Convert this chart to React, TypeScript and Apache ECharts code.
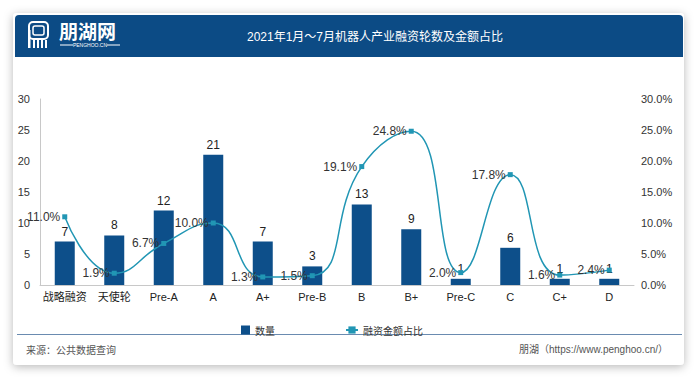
import React, { useEffect, useRef } from "react";
import * as echarts from "echarts";

const categories = ["战略融资", "天使轮", "Pre-A", "A", "A+", "Pre-B", "B", "B+", "Pre-C", "C", "C+", "D"];
const counts = [7, 8, 12, 21, 7, 3, 13, 9, 1, 6, 1, 1];
const shares = [11.0, 1.9, 6.7, 10.0, 1.3, 1.5, 19.1, 24.8, 2.0, 17.8, 1.6, 2.4];
const leftTicks = { min: 0, max: 30, interval: 5 };
const rightTicks = { min: 0, max: 30, interval: 5 };

const TITLE = "2021年1月～7月机器人产业融资轮数及金额占比";
const BAR_NAME = "数量";
const LINE_NAME = "融资金额占比";
const SOURCE = "来源：公共数据查询";
const CREDIT = "朋湖（https://www.penghoo.cn/）";

const BAR_COLOR = "#0d4f8a";
const LINE_COLOR = "#2196b4";
const HEADER_COLOR = "#0c4b85";
const FONT = "'Liberation Sans', Arial, 'Noto Sans CJK SC', sans-serif";

export default function App() {
  const ref = useRef<HTMLDivElement>(null);
  useEffect(() => {
    if (!ref.current) return;
    const chart = echarts.init(ref.current, undefined, { renderer: "svg" });
    const option: any = {
      animation: false,
      backgroundColor: "#ffffff",
      textStyle: { fontFamily: FONT },
      graphic: [
        {
          type: "rect",
          z: -10,
          shape: { x: 13, y: 13, width: 671, height: 352, r: 4 },
          style: { fill: "#ffffff", shadowBlur: 10, shadowColor: "rgba(0,0,0,0.28)", shadowOffsetY: 2 },
          silent: true,
        },
        {
          type: "rect",
          z: -5,
          shape: { x: 15, y: 15, width: 668, height: 42, r: [4, 4, 0, 0] },
          style: { fill: HEADER_COLOR },
          silent: true,
        },
        // logo icon
        {
          type: "rect",
          shape: { x: 29, y: 22, width: 19, height: 17, r: 4 },
          style: { fill: "none", stroke: "#ffffff", lineWidth: 2 },
        },
        {
          type: "rect",
          shape: { x: 33, y: 26, width: 11, height: 9, r: 2 },
          style: { fill: "none", stroke: "#ffffff", lineWidth: 1.5 },
        },
        { type: "rect", shape: { x: 28, y: 30, width: 2.5, height: 18 }, style: { fill: "#ffffff" } },
        { type: "rect", shape: { x: 33, y: 38, width: 2, height: 10 }, style: { fill: "#ffffff" } },
        { type: "rect", shape: { x: 37, y: 40, width: 2, height: 8 }, style: { fill: "#ffffff" } },
        { type: "rect", shape: { x: 41, y: 40, width: 2, height: 8 }, style: { fill: "#ffffff" } },
        { type: "rect", shape: { x: 45, y: 40, width: 2, height: 8 }, style: { fill: "#ffffff" } },
        {
          type: "text",
          x: 59,
          y: 30,
          style: {
            text: "朋湖网",
            fill: "#ffffff",
            font: "bold 19px 'Noto Sans CJK SC', sans-serif",
            verticalAlign: "middle",
          },
        },
        {
          type: "text",
          x: 90,
          y: 45,
          style: { text: "PENGHOO.CN", fill: "#ffffff", font: "5px 'Liberation Sans', Arial", align: "center", verticalAlign: "middle" },
        },
        { type: "line", shape: { x1: 60, y1: 45, x2: 73, y2: 45 }, style: { stroke: "#ffffff", lineWidth: 1 } },
        { type: "line", shape: { x1: 107, y1: 45, x2: 120, y2: 45 }, style: { stroke: "#ffffff", lineWidth: 1 } },
        {
          type: "text",
          x: 375,
          y: 37,
          style: {
            text: TITLE,
            fill: "#ffffff",
            font: "12px 'Liberation Sans', 'Noto Sans CJK SC', sans-serif",
            align: "center",
            verticalAlign: "middle",
          },
        },
        {
          type: "line",
          shape: { x1: 17, y1: 334.5, x2: 682, y2: 334.5 },
          style: { stroke: "#6a8bb0", lineWidth: 1 },
        },
        {
          type: "text",
          x: 26,
          y: 349,
          style: { text: SOURCE, fill: "#555555", font: "10px 'Noto Sans CJK SC', sans-serif", verticalAlign: "middle" },
        },
        {
          type: "text",
          x: 668,
          y: 349,
          style: {
            text: CREDIT,
            fill: "#555555",
            font: "10px 'Liberation Sans', 'Noto Sans CJK SC', sans-serif",
            align: "right",
            verticalAlign: "middle",
          },
        },
      ],
      legend: [
        {
          data: [{ name: BAR_NAME, icon: "rect" }],
          left: 236,
          top: 320,
          itemWidth: 9,
          itemHeight: 9,
          itemGap: 4,
          textStyle: { fontSize: 10, color: "#333", fontFamily: "'Noto Sans CJK SC', sans-serif" },
        },
        {
          data: [{ name: LINE_NAME }],
          left: 340,
          top: 320,
          itemWidth: 12,
          itemHeight: 9,
          itemGap: 4,
          textStyle: { fontSize: 10, color: "#333", fontFamily: "'Noto Sans CJK SC', sans-serif" },
        },
      ],
      grid: { left: 40, right: 66, top: 99, bottom: 95, containLabel: false },
      xAxis: {
        type: "category",
        data: categories,
        axisTick: { show: false },
        axisLine: { lineStyle: { color: "#c8c8c8" } },
        axisLabel: { color: "#222", fontSize: 11, margin: 6, interval: 0 },
      },
      yAxis: [
        {
          type: "value",
          ...leftTicks,
          axisLine: { show: true, lineStyle: { color: "#c8c8c8" } },
          axisTick: { show: false },
          splitLine: { show: false },
          axisLabel: { color: "#333", fontSize: 11, margin: 10 },
        },
        {
          type: "value",
          ...rightTicks,
          axisLine: { show: false },
          axisTick: { show: false },
          splitLine: { show: false },
          axisLabel: { color: "#333", fontSize: 11, margin: 7, formatter: (v: number) => v.toFixed(1) + "%" },
        },
      ],
      series: [
        {
          name: BAR_NAME,
          type: "bar",
          data: counts,
          barWidth: 20,
          itemStyle: { color: BAR_COLOR },
          label: { show: true, position: "top", color: "#222", fontSize: 12, distance: 4 },
        },
        {
          name: LINE_NAME,
          type: "line",
          yAxisIndex: 1,
          data: shares,
          smooth: 0.5,
          symbol: "rect",
          symbolSize: 5,
          itemStyle: { color: LINE_COLOR },
          lineStyle: { color: LINE_COLOR, width: 1.5 },
          label: {
            show: true,
            position: "left",
            distance: 2,
            color: "#333",
            fontSize: 12,
            formatter: (p: any) => p.value.toFixed(1) + "%",
          },
          z: 3,
        },
      ],
    };
    chart.setOption(option);
    return () => chart.dispose();
  }, []);
  return (
    <div style={{ position: "absolute", left: 0, top: 0, width: 700, height: 380 }}>
      <div ref={ref} style={{ width: 700, height: 380 }} />
    </div>
  );
}
